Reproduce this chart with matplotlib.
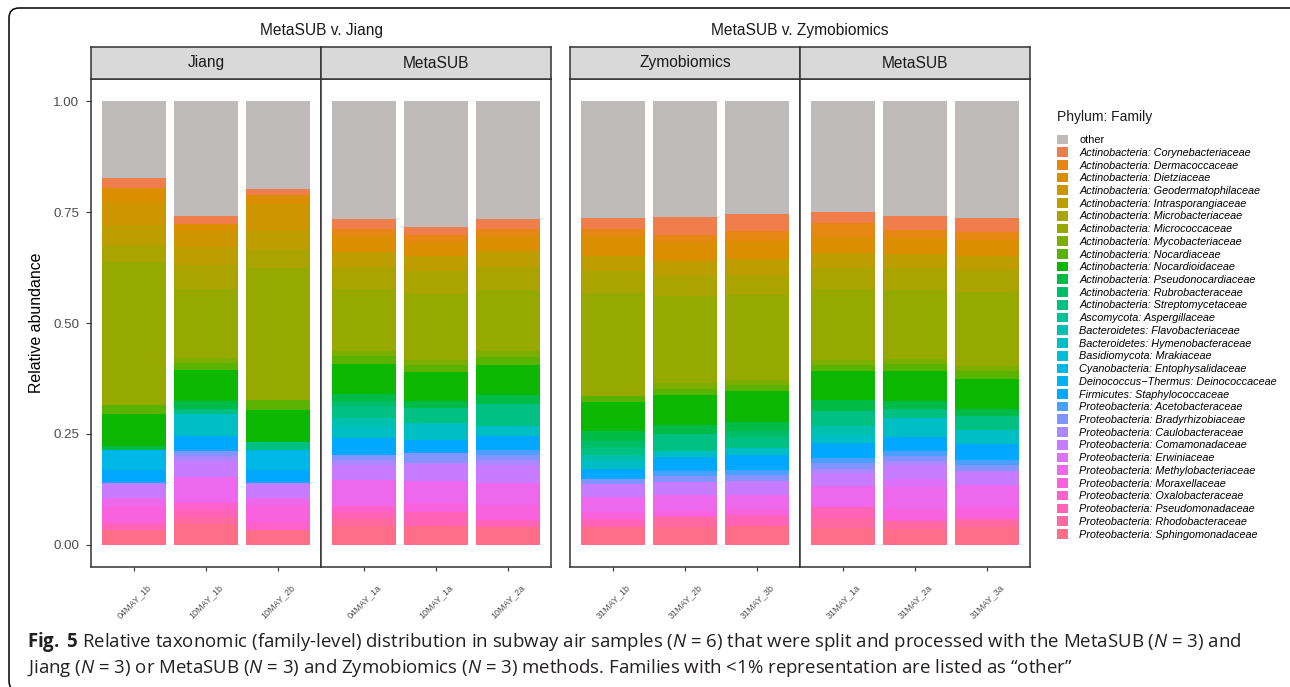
import matplotlib
matplotlib.use("Agg")
import matplotlib.pyplot as plt
import numpy as np
from matplotlib.patches import Patch, FancyBboxPatch
from matplotlib.transforms import IdentityTransform

plt.rcParams['font.family'] = ['Liberation Sans', 'DejaVu Sans']
plt.rcParams['mathtext.fontset'] = 'custom'
plt.rcParams['mathtext.rm'] = 'Open Sans'
plt.rcParams['mathtext.it'] = 'Open Sans:italic'
plt.rcParams['mathtext.bf'] = 'Open Sans:bold'

# ---------------- data (percent relative abundance) ----------------
families = [
    "other",
    "Actinobacteria: Corynebacteriaceae", "Actinobacteria: Dermacoccaceae",
    "Actinobacteria: Dietziaceae", "Actinobacteria: Geodermatophilaceae",
    "Actinobacteria: Intrasporangiaceae", "Actinobacteria: Microbacteriaceae",
    "Actinobacteria: Micrococcaceae", "Actinobacteria: Mycobacteriaceae",
    "Actinobacteria: Nocardiaceae", "Actinobacteria: Nocardioidaceae",
    "Actinobacteria: Pseudonocardiaceae", "Actinobacteria: Rubrobacteraceae",
    "Actinobacteria: Streptomycetaceae", "Ascomycota: Aspergillaceae",
    "Bacteroidetes: Flavobacteriaceae", "Bacteroidetes: Hymenobacteraceae",
    "Basidiomycota: Mrakiaceae", "Cyanobacteria: Entophysalidaceae",
    "Deinococcus\u2212Thermus: Deinococcaceae", "Firmicutes: Staphylococcaceae",
    "Proteobacteria: Acetobacteraceae", "Proteobacteria: Bradyrhizobiaceae",
    "Proteobacteria: Caulobacteraceae", "Proteobacteria: Comamonadaceae",
    "Proteobacteria: Erwiniaceae", "Proteobacteria: Methylobacteriaceae",
    "Proteobacteria: Moraxellaceae", "Proteobacteria: Oxalobacteraceae",
    "Proteobacteria: Pseudomonadaceae", "Proteobacteria: Rhodobacteraceae",
    "Proteobacteria: Sphingomonadaceae",
]

# values in legend order (other, Corynebacteriaceae, ..., Sphingomonadaceae)
s04MAY_1b = [17.25, 2.40, 0, 3.38, 4.88, 4.50, 3.75, 32.26, 0, 2.03, 7.20, 0.90, 0, 0, 0, 0,
             0, 0, 4.50, 0, 3.00, 0, 0, 0, 3.38, 0, 1.88, 3.75, 0, 1.50, 0, 3.45]
s10MAY_1b = [26.03, 1.73, 0, 1.65, 3.53, 3.98, 5.48, 15.53, 1.13, 1.65, 6.98, 1.65, 0, 1.13, 0, 0,
             5.10, 0, 0, 0, 3.23, 0, 1.28, 1.13, 3.60, 0, 5.78, 0, 1.65, 1.58, 1.65, 4.58]
s10MAY_2b = [19.80, 1.35, 0, 2.10, 5.93, 4.35, 3.98, 29.93, 0, 2.10, 7.20, 0, 0, 1.95, 0, 0,
             0, 0, 4.35, 0, 3.00, 0, 0, 0, 3.38, 0, 1.50, 3.90, 1.73, 0, 0, 3.45]
s04MAY_1a = [26.71, 2.18, 1.65, 3.53, 0, 3.38, 4.95, 14.03, 1.13, 1.65, 6.75, 1.73, 1.13, 2.63, 0, 2.03,
             2.48, 0, 0, 0, 3.75, 0, 1.13, 1.13, 3.38, 0, 6.00, 0, 1.35, 1.28, 1.88, 4.20]
s10MAY_1a = [28.28, 1.88, 1.50, 3.38, 0, 3.23, 5.18, 14.85, 1.13, 1.58, 6.53, 1.65, 0, 3.38, 0, 0,
             3.75, 0, 0, 0, 3.00, 0, 2.25, 0, 4.13, 0, 4.88, 2.10, 0, 3.15, 0, 4.20]
s10MAY_2a = [26.56, 2.25, 1.73, 3.38, 0, 3.53, 5.25, 13.73, 1.28, 1.73, 6.90, 1.88, 0, 5.10, 0, 0,
             2.25, 0, 0, 0, 3.00, 1.13, 1.13, 1.28, 3.98, 0, 4.88, 3.38, 0, 1.65, 0, 4.05]
s31MAY_1b = [26.41, 2.33, 1.58, 4.50, 0, 3.45, 5.03, 23.26, 0, 1.35, 6.53, 2.25, 1.50, 1.50, 0, 1.50,
             1.65, 0, 0, 0, 2.33, 0, 1.05, 0, 3.08, 0, 3.38, 1.50, 0, 1.80, 0, 4.05]
s31MAY_2b = [26.18, 3.98, 1.65, 4.20, 0, 3.30, 4.73, 19.50, 1.28, 1.35, 6.75, 2.03, 0, 3.83, 0, 0,
             1.50, 0, 0, 0, 3.00, 1.28, 1.28, 0, 3.00, 0, 3.45, 1.50, 0, 0, 2.18, 4.05]
s31MAY_3b = [25.43, 3.83, 2.18, 4.13, 0, 3.60, 4.65, 19.13, 0.98, 1.50, 6.98, 2.03, 1.35, 2.40, 0, 0,
             1.50, 0, 0, 0, 3.38, 1.28, 1.20, 0, 3.15, 0, 3.15, 1.50, 0, 2.48, 0, 4.20]
s31MAY_1a = [24.98, 2.55, 3.23, 3.53, 0, 3.38, 4.73, 15.90, 1.13, 1.50, 6.38, 2.63, 0, 3.38, 0, 1.88,
             1.88, 0, 0, 0, 3.38, 1.13, 1.28, 0.98, 2.85, 0, 4.80, 0, 0, 2.48, 2.25, 3.83]
s31MAY_2a = [25.81, 3.23, 1.73, 3.75, 0, 3.15, 4.88, 15.60, 1.05, 1.58, 6.75, 1.80, 0, 2.10, 0, 0,
             4.28, 0, 0, 0, 3.08, 1.13, 1.28, 0.90, 3.00, 1.88, 4.95, 2.78, 0, 0, 1.73, 3.60]
s31MAY_3a = [26.33, 3.23, 1.73, 3.53, 0, 3.23, 5.10, 16.50, 1.13, 1.80, 6.75, 1.58, 0, 3.15, 0, 0,
             3.15, 0, 0, 0, 3.60, 1.28, 1.20, 0, 3.30, 0, 4.88, 2.85, 0, 0, 1.73, 3.98]

group_titles = ["MetaSUB v. Jiang", "MetaSUB v. Zymobiomics"]
panel_titles = ["Jiang", "MetaSUB", "Zymobiomics", "MetaSUB"]
panel_samples = [
    ["04MAY_1b", "10MAY_1b", "10MAY_2b"],
    ["04MAY_1a", "10MAY_1a", "10MAY_2a"],
    ["31MAY_1b", "31MAY_2b", "31MAY_3b"],
    ["31MAY_1a", "31MAY_2a", "31MAY_3a"],
]
panel_values = [
    [s04MAY_1b, s10MAY_1b, s10MAY_2b],
    [s04MAY_1a, s10MAY_1a, s10MAY_2a],
    [s31MAY_1b, s31MAY_2b, s31MAY_3b],
    [s31MAY_1a, s31MAY_2a, s31MAY_3a],
]
y_ticks = [0.0, 0.25, 0.5, 0.75, 1.0]
y_tick_labels = ["0.00", "0.25", "0.50", "0.75", "1.00"]


# ---------------- colours: ggplot2 hue palette ----------------
def hcl(h, c=100.0, l=65.0):
    hr = np.deg2rad(h)
    U, V = c * np.cos(hr), c * np.sin(hr)
    Xn, Yn, Zn = 95.047, 100.0, 108.883
    Y = Yn * ((l + 16.0) / 116.0) ** 3
    t = Xn + Yn + Zn
    xn, yn = Xn / t, Yn / t
    uN = 2 * xn / (6 * yn - xn + 1.5)
    vN = 4.5 * yn / (6 * yn - xn + 1.5)
    u = U / (13 * l) + uN
    v = V / (13 * l) + vN
    X = 9.0 * Y * u / (4 * v)
    Z = -X / 3 - 5 * Y + 3 * Y / v
    X, Y, Z = X / 100, Y / 100, Z / 100
    r = 3.240479 * X - 1.537150 * Y - 0.498535 * Z
    g = -0.969256 * X + 1.875992 * Y + 0.041556 * Z
    b = 0.055648 * X - 0.204043 * Y + 1.057311 * Z

    def gam(x):
        x = 12.92 * x if x <= 0.0031308 else 1.055 * x ** (1 / 2.4) - 0.055
        return min(max(x, 0.0), 1.0)
    return (gam(r), gam(g), gam(b))


n_pal = 32
colors = ["#BFBBBA"] + [hcl(15 + 360.0 * i / n_pal) for i in range(1, len(families))]

# ---------------- figure ----------------
W, H = 1290, 687
fig = plt.figure(figsize=(W / 100, H / 100), dpi=100)
fig.patch.set_facecolor("white")


def fx(x):
    return x / W


def fy(y):
    return 1 - y / H


panel_left = [91, 321, 570, 800]
panel_right = [321, 551, 800, 1030]
p_top, p_bot = 79, 567
strip_top = 47
edge = "#333333"

for i in range(4):
    L, R = panel_left[i], panel_right[i]
    ax = fig.add_axes([fx(L), fy(p_bot), (R - L) / W, (p_bot - p_top) / H])
    vals = np.array(panel_values[i], dtype=float) / 100.0  # (3, nfam)
    xs = np.arange(1, vals.shape[0] + 1)
    bottom = np.zeros(vals.shape[0])
    for k in range(len(families) - 1, -1, -1):
        ax.bar(xs, vals[:, k], bottom=bottom, width=0.9, color=colors[k],
               linewidth=0)
        bottom += vals[:, k]
    ax.set_xlim(0.4, 3.6)
    ax.set_ylim(-0.05, 1.05)
    ax.set_xticks(xs)
    ax.set_xticklabels(panel_samples[i], rotation=45, ha="center", va="top",
                       fontsize=6.5, color="#4D4D4D")
    ax.tick_params(axis="x", length=3, width=0.8, color=edge, pad=8.5)
    if i == 0:
        ax.set_yticks(y_ticks)
        ax.set_yticklabels(y_tick_labels, fontsize=9.6, color="#4D4D4D")
        ax.tick_params(axis="y", length=3.5, width=0.8, color=edge, pad=5)
    else:
        ax.set_yticks([])
    for sp in ax.spines.values():
        sp.set_color(edge)
        sp.set_linewidth(1.1)
    ax.set_facecolor("white")

    # strip
    sax = fig.add_axes([fx(L), fy(p_top), (R - L) / W, (p_top - strip_top) / H])
    sax.set_facecolor("#D9D9D9")
    sax.set_xticks([])
    sax.set_yticks([])
    for sp in sax.spines.values():
        sp.set_color(edge)
        sp.set_linewidth(1.1)
    sax.text(0.5, 0.5, panel_titles[i], ha="center", va="center",
             fontsize=11.2, color="#1A1A1A", transform=sax.transAxes)

# group titles
fig.text(fx((91 + 551) / 2), fy(31), group_titles[0], ha="center", va="center",
         fontsize=11.2, color="#1A1A1A")
fig.text(fx((570 + 1030) / 2), fy(31), group_titles[1], ha="center", va="center",
         fontsize=11.2, color="#1A1A1A")

# y label
fig.text(fx(37), fy(323), "Relative abundance", rotation=90, ha="center",
         va="center", fontsize=11.4, color="black")

# legend
fig.text(fx(1057), fy(117), "Phylum: Family", ha="left", va="center",
         fontsize=10, color="#1A1A1A")
handles = [Patch(facecolor=c, edgecolor="none") for c in colors]
leg = fig.legend(handles, families, loc="upper left",
                 bbox_to_anchor=(fx(1057), fy(134.5)), frameon=False,
                 fontsize=7.8, handlelength=1.0, handleheight=1.0,
                 handletextpad=1.05, labelspacing=0.2, borderpad=0.0,
                 borderaxespad=0.0)
for t in leg.get_texts()[1:]:
    t.set_fontstyle("italic")

# caption
cap_col = "#231F20"
line1 = (r"$\mathbf{Fig.}$ $\mathbf{5}$ Relative taxonomic (family-level) distribution in subway air "
         r"samples ($\mathit{N}$ = 6) that were split and processed with the MetaSUB "
         r"($\mathit{N}$ = 3) and")
line2 = (r"Jiang ($\mathit{N}$ = 3) or MetaSUB ($\mathit{N}$ = 3) and Zymobiomics "
         r"($\mathit{N}$ = 3) methods. Families with <1% representation are listed as "
         "\u201cother\u201d")
fig.text(fx(27), fy(647), line1, ha="left", va="baseline", fontsize=13.4,
         color=cap_col, family="Open Sans")
fig.text(fx(27), fy(673), line2, ha="left", va="baseline", fontsize=13.4,
         color=cap_col, family="Open Sans")

# outer rounded frame (right and bottom edges fall outside the image)
frame = FancyBboxPatch((9, -4), 1320, H - 8 + 4,
                       boxstyle="round,pad=0,rounding_size=10",
                       transform=IdentityTransform(), fill=False,
                       edgecolor="black", linewidth=1.1)
fig.add_artist(frame)

fig.savefig("out.png", dpi=100, facecolor="white")
